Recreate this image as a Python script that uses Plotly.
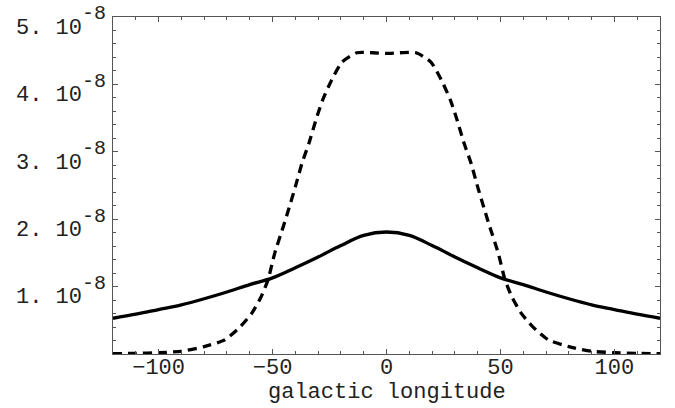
import plotly.graph_objects as go

# galactic longitude samples
lon_solid = [-120, -110, -100, -90, -80, -70, -60, -50, -40, -30, -20, -10, 0,
             10, 20, 30, 40, 50, 60, 70, 80, 90, 100, 110, 120]
# solid curve (units of 1e-8)
val_solid = [0.53, 0.59, 0.66, 0.73, 0.82, 0.92, 1.03, 1.13, 1.28, 1.44, 1.61, 1.76, 1.81,
             1.76, 1.61, 1.44, 1.28, 1.13, 1.03, 0.92, 0.82, 0.73, 0.66, 0.59, 0.53]

lon_dash = [-120, -110, -100, -90, -80, -71, -64, -59, -55, -52, -49, -45, -43, -40, -37,
            -34, -31, -28, -24, -19.5, -13, -6, 0, 6, 13, 19.5, 24, 28, 31, 34, 37, 40,
            43, 45, 49, 52, 55, 59, 64, 71, 80, 90, 100, 110, 120]
val_dash = [0.005, 0.01, 0.02, 0.04, 0.11, 0.21, 0.41, 0.61, 0.85, 1.10, 1.50, 1.92, 2.14,
            2.48, 2.84, 3.13, 3.47, 3.77, 4.07, 4.33, 4.47, 4.47, 4.46, 4.47, 4.47, 4.33,
            4.07, 3.77, 3.47, 3.13, 2.84, 2.48, 2.14, 1.92, 1.50, 1.10, 0.85, 0.61, 0.41,
            0.21, 0.11, 0.04, 0.02, 0.01, 0.005]

scale = 1e8
x_ticks = [-100, -50, 0, 50, 100]
y_tick_vals = [1, 2, 3, 4, 5]
y_tick_text = [f"<sub><span style='font-size:22px'>{v}. 10</span></sub>"
               f"<sup><sub><span style='font-size:20px'>-8</span></sub></sup>"
               for v in y_tick_vals]
x_title = "galactic longitude"

FONT = "Liberation Mono"
frame = "#555555"

fig = go.Figure()
fig.add_trace(go.Scatter(x=lon_dash, y=[v / scale for v in val_dash], mode="lines",
                         line=dict(color="black", width=3.3, dash="9px,6px", shape="spline",
                                   smoothing=0.6),
                         showlegend=False, hoverinfo="skip"))
fig.add_trace(go.Scatter(x=lon_solid, y=[v / scale for v in val_solid], mode="lines",
                         line=dict(color="black", width=3.3, shape="spline", smoothing=1.0),
                         showlegend=False, hoverinfo="skip"))

fig.add_annotation(text=x_title, xref="paper", yref="paper", x=0.5, y=0,
                   xanchor="center", yanchor="top", yshift=-24, showarrow=False,
                   font=dict(family=FONT, size=22, color="#222222"))

fig.update_layout(
    width=675, height=408,
    margin=dict(l=113, r=15, t=17, b=54),
    paper_bgcolor="white", plot_bgcolor="white",
    font=dict(family=FONT, size=22, color="#222222"),
    xaxis=dict(range=[-120, 120], tickvals=x_ticks, ticks="inside", ticklen=5,
               tickcolor=frame, showline=True, linecolor=frame, linewidth=1,
               mirror="allticks", showgrid=False, zeroline=False, automargin=False,
               minor=dict(ticks="inside", ticklen=3, dtick=10, tick0=0, tickcolor=frame,
                          showgrid=False),
               tickfont=dict(family=FONT, size=22), ticklabelstandoff=-7),
    yaxis=dict(range=[0, 5.0005 / scale], tickvals=[v / scale for v in y_tick_vals],
               ticktext=y_tick_text, ticks="inside", ticklen=5,
               tickcolor=frame, showline=True, linecolor=frame, linewidth=1,
               mirror="allticks", showgrid=False, zeroline=False, automargin=False,
               minor=dict(ticks="inside", ticklen=3, dtick=0.2 / scale, tick0=0,
                          tickcolor=frame, showgrid=False),
               tickfont=dict(family=FONT, size=30), ticklabelstandoff=0,
               ticklabeloverflow="allow"),
)

fig.write_html("out.html", config={"displayModeBar": False},
               post_script="document.body.style.margin='0';document.body.style.padding='0';")
